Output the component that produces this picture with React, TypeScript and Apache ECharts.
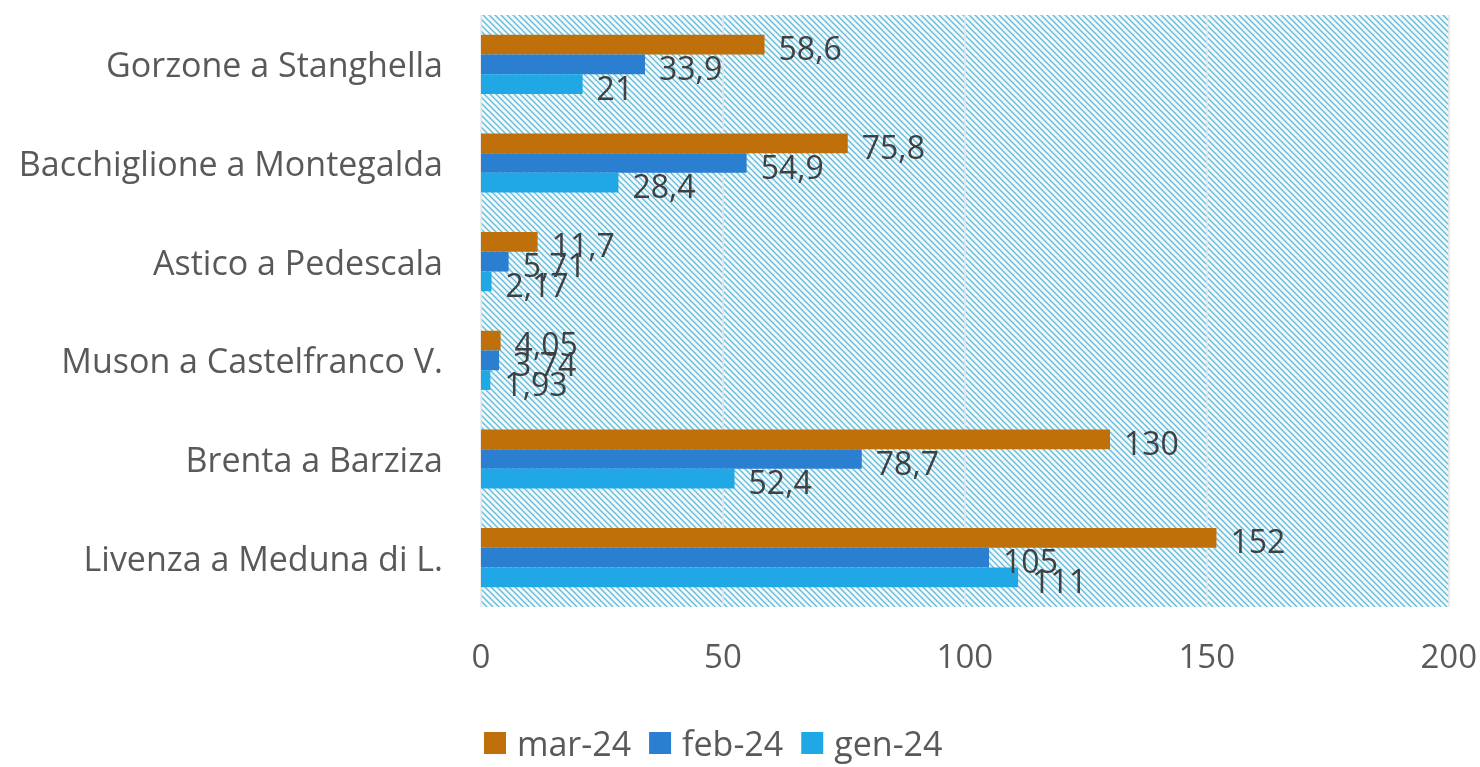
import React, { useEffect, useRef } from "react";
import * as echarts from "echarts";

// categories from bottom to top
const categories = [
  "Livenza a Meduna di L.",
  "Brenta a Barziza",
  "Muson a Castelfranco V.",
  "Astico a Pedescala",
  "Bacchiglione a Montegalda",
  "Gorzone a Stanghella",
];
const mar24 = [152, 130, 4.05, 11.7, 75.8, 58.6];
const feb24 = [105, 78.7, 3.74, 5.71, 54.9, 33.9];
const gen24 = [111, 52.4, 1.93, 2.17, 28.4, 21];
const xTicks = [0, 50, 100, 150, 200];

const FONT = "'Open Sans', 'Noto Sans', sans-serif";

function makeHatch(): string {
  const s = 6;
  const c = document.createElement("canvas");
  c.width = s;
  c.height = s;
  const ctx = c.getContext("2d")!;
  ctx.fillStyle = "#f0fafd";
  ctx.fillRect(0, 0, s, s);
  ctx.strokeStyle = "#66b9d5";
  ctx.lineWidth = 1.3;
  ctx.beginPath();
  ctx.moveTo(-1, -1);
  ctx.lineTo(s + 1, s + 1);
  ctx.moveTo(-1, s - 1);
  ctx.lineTo(1, s + 1);
  ctx.moveTo(s - 1, -1);
  ctx.lineTo(s + 1, 1);
  ctx.stroke();
  return c.toDataURL();
}

export default function App() {
  const ref = useRef<HTMLDivElement>(null);
  useEffect(() => {
    if (!ref.current) return;
    const chart = echarts.init(ref.current, undefined, { renderer: "svg" });
    const hatch = makeHatch();
    const label = {
      show: true,
      position: "right" as const,
      distance: 14,
      offset: [0, 3],
      color: "#404040",
      fontSize: 32,
      fontFamily: FONT,
      formatter: (p: any) => String(p.value).replace(".", ","),
    };
    const mk = (name: string, data: number[], color: string) => ({
      name,
      type: "bar" as const,
      data,
      barGap: "0%",
      barCategoryGap: "40%",
      itemStyle: { color },
      label,
    });
    chart.setOption({
      animation: false,
      textStyle: { fontFamily: FONT },
      grid: {
        left: 481,
        right: 30,
        top: 15,
        bottom: 160,
        show: true,
        borderWidth: 0,
        backgroundColor: { image: hatch, repeat: "repeat" },
      },
      legend: {
        top: 726,
        left: 484,
        padding: 0,
        data: ["mar-24", "feb-24", "gen-24"],
        icon: "rect",
        itemWidth: 22,
        itemHeight: 22,
        itemGap: 18,
        textStyle: {
          fontSize: 34,
          color: "#595959",
          fontFamily: FONT,
          padding: [0, 0, 0, 6],
        },
      },
      xAxis: {
        type: "value",
        min: xTicks[0],
        max: xTicks[xTicks.length - 1],
        interval: 50,
        axisLine: { show: false },
        axisTick: { show: false },
        splitLine: { lineStyle: { color: "#e6e6e6", width: 1.5 } },
        axisLabel: { fontSize: 33, color: "#595959", margin: 32, fontFamily: FONT },
      },
      yAxis: {
        type: "category",
        data: categories,
        axisLine: { show: false },
        axisTick: { show: false },
        axisLabel: { fontSize: 34, color: "#595959", margin: 38, fontFamily: FONT },
      },
      series: [
        mk("mar-24", mar24, "#c0700a"),
        mk("feb-24", feb24, "#2b7fd0"),
        mk("gen-24", gen24, "#20a8e6"),
      ],
    });
    return () => chart.dispose();
  }, []);
  return (
    <div
      ref={ref}
      style={{ position: "fixed", left: 0, top: 0, width: 1480, height: 767 }}
    />
  );
}
